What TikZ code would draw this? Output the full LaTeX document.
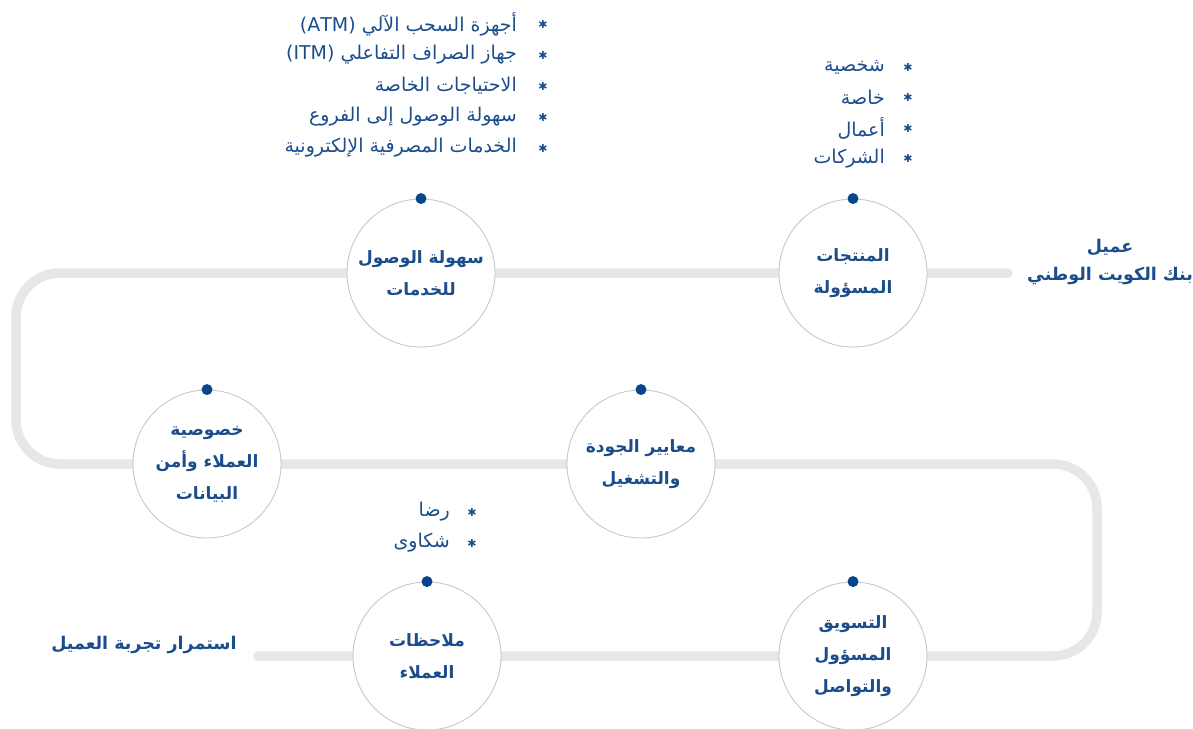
\documentclass[tikz,border=0pt]{standalone}
\usepackage{fontspec}
\TeXXeTstate=1
\newfontfamily\arabicfont[Script=Arabic]{DejaVu Sans}
\newfontfamily\symbfont{DejaVu Sans}
\definecolor{nbkblue}{RGB}{27,77,140}
\definecolor{dotblue}{RGB}{8,70,140}
\definecolor{trackgray}{RGB}{230,231,232}
\definecolor{ringgray}{RGB}{200,200,200}
\newcommand{\artext}[1]{\beginR #1\endR}
\tikzset{
  stage/.style={circle,draw=ringgray,line width=0.9pt,fill=white,minimum size=148pt,inner sep=0pt,
    text=nbkblue,font=\fontsize{17}{32}\selectfont\arabicfont\bfseries,align=center},
  pin/.style={circle,fill=dotblue,inner sep=0pt,minimum size=11pt},
  item/.style={anchor=east,text=nbkblue,font=\fontsize{19}{20}\selectfont\arabicfont,inner sep=0pt},
  star/.style={text=nbkblue,font=\fontsize{11}{11}\selectfont\symbfont,inner sep=0pt},
  endlabel/.style={text=nbkblue,font=\fontsize{17.5}{28}\selectfont\arabicfont\bfseries,align=center}
}
\begin{document}
\begin{tikzpicture}[line cap=round,line join=round,x=1pt,y=-1pt]
\useasboundingbox (0,0) rectangle (1193,728);
\coordinate (p1) at (853,273);
\coordinate (p2) at (421,273);
\coordinate (p3) at (641,464);
\coordinate (p4) at (207,464);
\coordinate (p5) at (853,656);
\coordinate (p6) at (427,656);
\coordinate (start) at (1008,273);
\coordinate (lt) at (16,273);
\coordinate (lb) at (16,464);
\coordinate (rt) at (1097,464);
\coordinate (rb) at (1097,656);
\coordinate (finish) at (258,656);
\draw[trackgray,line width=9.5pt,rounded corners=44pt] (start) -- (p1) -- (p2) -- (lt) -- (lb) -- (p4) -- (p3) -- (rt) -- (rb) -- (p5) -- (p6) -- (finish);
% stages
\node[stage] (products) at (p1) {\artext{المنتجات}\\\artext{المسؤولة}};
\node[stage] (access) at (p2) {\artext{سهولة الوصول}\\\artext{للخدمات}};
\node[stage] (quality) at (p3) {\artext{معايير الجودة}\\\artext{والتشغيل}};
\node[stage] (privacy) at (p4) {\artext{خصوصية}\\\artext{العملاء وأمن}\\\artext{البيانات}};
\node[stage] (marketing) at (p5) {\artext{التسويق}\\\artext{المسؤول}\\\artext{والتواصل}};
\node[stage] (feedback) at (p6) {\artext{ملاحظات}\\\artext{العملاء}};
\foreach \s in {products,access,quality,privacy,marketing,feedback}
\node[pin] (\s-pin) at (\s.north) {};
% lists
\foreach \t [count=\i from 0] in {{أجهزة السحب الآلي \beginL(ATM)\endL},{جهاز الصراف التفاعلي \beginL(ITM)\endL},{الاحتياجات الخاصة},{سهولة الوصول إلى الفروع},{الخدمات المصرفية الإلكترونية}}{
\node[item] (access-item-\i) at (517,24+31*\i) {\artext{\t}};
\node[star] (access-star-\i) at (543,24+31*\i) {✱};
}
\foreach \t [count=\i from 0] in {شخصية,خاصة,أعمال,الشركات}{
\node[item] (products-item-\i) at (885,67+30.5*\i) {\artext{\t}};
\node[star] (products-star-\i) at (908,67+30.5*\i) {✱};
}
\foreach \t [count=\i from 0] in {رضا,شكاوى}{
\node[item] (feedback-item-\i) at (450,512+31*\i) {\artext{\t}};
\node[star] (feedback-star-\i) at (472,512+31*\i) {✱};
}
\node[endlabel] (customer) at (1110,262) {\artext{عميل}\\\artext{بنك الكويت الوطني}};
\node[endlabel] (journey) at (144,645) {\artext{استمرار تجربة العميل}};
\end{tikzpicture}
\end{document}
